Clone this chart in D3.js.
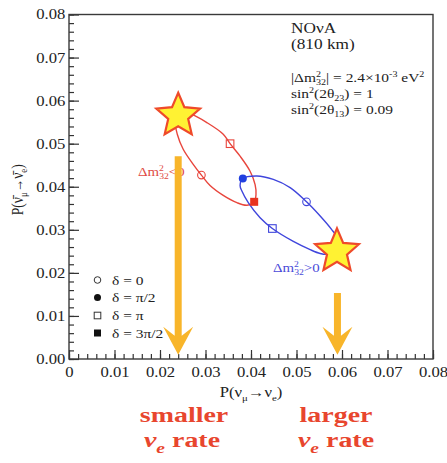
<!DOCTYPE html>
<html><head><meta charset="utf-8">
<script src="https://cdn.jsdelivr.net/npm/d3@7"></script>
<style>body{margin:0;background:#fff}svg{display:block}</style>
</head><body>
<svg id="c" width="447" height="463"></svg>
<script>
// ---------- data ----------
const tickValues = [0, 0.01, 0.02, 0.03, 0.04, 0.05, 0.06, 0.07, 0.08];
const xTickLabels = ["0", "0.01", "0.02", "0.03", "0.04", "0.05", "0.06", "0.07", "0.08"];
const yTickLabels = ["0.00", "0.01", "0.02", "0.03", "0.04", "0.05", "0.06", "0.07", "0.08"];

// curve outlines (x = P(nu_mu->nu_e), y = P(anti))
const invertedCurve = [
  [0.0234,0.0547],[0.0240,0.0563],[0.0255,0.0573],[0.0268,0.0569],[0.0303,0.0549],
  [0.0339,0.0522],[0.0354,0.0500],[0.0376,0.0471],[0.0398,0.0436],[0.0409,0.0405],
  [0.0411,0.0382],[0.0407,0.0365],[0.0391,0.0357],[0.0369,0.0363],[0.0339,0.0380],
  [0.0310,0.0403],[0.0291,0.0427],[0.0273,0.0452],[0.0251,0.0487],[0.0238,0.0522]
];
const normalCurve = [
  [0.0376,0.0403],[0.0382,0.0419],[0.0413,0.0425],[0.0449,0.0417],[0.0486,0.0398],
  [0.0522,0.0365],[0.0552,0.0332],[0.0577,0.0301],[0.0592,0.0278],[0.0594,0.0262],
  [0.0585,0.0248],[0.0568,0.0243],[0.0552,0.0245],[0.0530,0.0254],[0.0493,0.0273],
  [0.0447,0.0303],[0.0420,0.0328],[0.0394,0.0363],[0.0380,0.0390]
];
// delta markers: 0, pi/2, pi, 3pi/2
const deltaLabels = ["δ = 0", "δ = π/2", "δ = π", "δ = 3π/2"];
const invertedMarkersX = [0.0291, 0.0240, 0.0354, 0.0407];
const invertedMarkersY = [0.0427, 0.0563, 0.0500, 0.0365];
const normalMarkersX = [0.0522, 0.0382, 0.0447, 0.0588];
const normalMarkersY = [0.0365, 0.0419, 0.0303, 0.0249];
const starX = [0.0240, 0.0589];
const starY = [0.0565, 0.0250];
const arrowX = [0.0240, 0.0590];
const arrowTop = [0.0471, 0.01535];
const arrowTip = [0.0010, 0.0010];

// ---------- setup ----------
const SX = 1.19;
const serif = "'Liberation Serif','Times New Roman',serif";
const svg = d3.select("#c");
const x = d3.scaleLinear().domain([0, 0.08]).range([69, 433]);
const y = d3.scaleLinear().domain([0, 0.08]).range([359, 14.5]);

const RED = "#e8453c", BLUE = "#3f45dc";

// rich text helper
function rich(g, px, py, size, color, parts, opts = {}) {
  const sx = opts.sx || SX;
  const t = g.append("text")
    .attr("transform", `translate(${px},${py}) scale(${sx},1)${opts.rotate ? " rotate(-90)" : ""}`)
    .attr("font-family", serif).attr("font-size", size).attr("fill", color)
    .attr("text-anchor", opts.anchor || "start")
    .attr("font-weight", opts.bold ? "bold" : null);
  let cur = 0;
  parts.forEach(p => {
    const ts = t.append("tspan").text(p.t);
    const target = p.sup ? -0.38 * size : p.sub ? 0.26 * size : 0;
    if (target - cur !== 0) ts.attr("dy", target - cur);
    cur = target;
    if (p.sup || p.sub) ts.attr("font-size", size * (p.scale || 0.65));
    if (p.dx) ts.attr("dx", p.dx);
    if (p.italic) ts.attr("font-style", "italic");
  });
  return t;
}

// ---------- axes ----------
const minor = d3.range(0, 0.0801, 0.002);
const axG = svg.append("g");
axG.append("g").attr("transform", `translate(0,${y(0)})`)
  .call(d3.axisBottom(x).tickValues(minor).tickSizeInner(-5).tickSizeOuter(0).tickFormat(""));
axG.append("g").attr("transform", `translate(${x(0)},0)`)
  .call(d3.axisLeft(y).tickValues(minor).tickSizeInner(-5).tickSizeOuter(0).tickFormat(""));
axG.append("g").attr("class", "xmaj").attr("transform", `translate(0,${y(0)})`)
  .call(d3.axisBottom(x).tickValues(tickValues).tickSizeInner(-9).tickSizeOuter(0).tickPadding(8)
    .tickFormat((d, i) => xTickLabels[i]));
axG.append("g").attr("class", "ymaj").attr("transform", `translate(${x(0)},0)`)
  .call(d3.axisLeft(y).tickValues(tickValues).tickSizeInner(-10).tickSizeOuter(0).tickPadding(3)
    .tickFormat((d, i) => yTickLabels[i]));
axG.selectAll(".domain").remove();
axG.selectAll(".tick line").attr("stroke", "#333").attr("stroke-width", 1.2);
axG.selectAll(".tick text").attr("font-family", serif).attr("font-size", 14).attr("fill", "#222")
  .attr("transform", `scale(${SX},1)`);
svg.append("rect").attr("x", x(0)).attr("y", y(0.08)).attr("width", x(0.08) - x(0)).attr("height", y(0) - y(0.08))
  .attr("fill", "none").attr("stroke", "#3a3a3a").attr("stroke-width", 1.4);

// axis titles
rich(svg, (x(0) + x(0.08)) / 2, 397, 14, "#222", [
  {t: "P(ν"}, {t: "μ", sub: true}, {t: "→ν"}, {t: "e", sub: true}, {t: ")"}
], {anchor: "middle"});
rich(svg, 23, (y(0) + y(0.08)) / 2 + 3, 13.5, "#222", [
  {t: "P(ν\u0304"}, {t: "μ", sub: true}, {t: "→ν\u0304"}, {t: "e", sub: true}, {t: ")"}
], {anchor: "middle", rotate: true});

// ---------- curves ----------
const line = d3.line().x(d => x(d[0])).y(d => y(d[1])).curve(d3.curveCatmullRomClosed.alpha(0.5));
svg.append("path").attr("d", line(invertedCurve)).attr("fill", "none").attr("stroke", RED).attr("stroke-width", 1.4);
svg.append("path").attr("d", line(normalCurve)).attr("fill", "none").attr("stroke", BLUE).attr("stroke-width", 1.4);

// markers
function drawMarkers(xs, ys, color, fillColor) {
  const g = svg.append("g");
  xs.forEach((vx, i) => {
    const cx = x(vx), cy = y(ys[i]);
    if (i === 0) g.append("circle").attr("cx", cx).attr("cy", cy).attr("r", 3.8).attr("fill", "none").attr("stroke", color).attr("stroke-width", 1.1);
    if (i === 1) g.append("circle").attr("cx", cx).attr("cy", cy).attr("r", 4).attr("fill", fillColor);
    if (i === 2) g.append("rect").attr("x", cx - 3.8).attr("y", cy - 3.8).attr("width", 7.6).attr("height", 7.6).attr("fill", "none").attr("stroke", color).attr("stroke-width", 1.1);
    if (i === 3) g.append("rect").attr("x", cx - 4).attr("y", cy - 4).attr("width", 8).attr("height", 8).attr("fill", fillColor);
  });
}
drawMarkers(invertedMarkersX, invertedMarkersY, RED, "#e8331e");
drawMarkers(normalMarkersX, normalMarkersY, BLUE, "#2140e0");

// hierarchy labels
rich(svg, 138, 176, 12.5, "#e04a44", [
  {t: "Δm"}, {t: "2", sup: true}, {t: "32", sub: true, dx: -4}, {t: "<0"}
]);
rich(svg, 273, 272, 12.5, "#4a4ad8", [
  {t: "Δm"}, {t: "2", sup: true}, {t: "32", sub: true, dx: -4}, {t: ">0"}
]);

// legend
const legRows = [280, 297.5, 315.5, 333];
const lg = svg.append("g");
deltaLabels.forEach((lab, i) => {
  const cy = legRows[i], cx = 97.5;
  if (i === 0) lg.append("circle").attr("cx", cx).attr("cy", cy).attr("r", 3.3).attr("fill", "none").attr("stroke", "#333").attr("stroke-width", 1);
  if (i === 1) lg.append("circle").attr("cx", cx).attr("cy", cy).attr("r", 3.5).attr("fill", "#111");
  if (i === 2) lg.append("rect").attr("x", cx - 3.3).attr("y", cy - 3.3).attr("width", 6.6).attr("height", 6.6).attr("fill", "none").attr("stroke", "#333").attr("stroke-width", 1);
  if (i === 3) lg.append("rect").attr("x", cx - 3.5).attr("y", cy - 3.5).attr("width", 7).attr("height", 7).attr("fill", "#111");
  rich(lg, 112, cy + 4.5, 13, "#222", [{t: lab}]);
});

// info block
const ig = svg.append("g");
rich(ig, 291, 33, 14.5, "#222", [{t: "NOνA"}]);
rich(ig, 291, 49, 14.5, "#222", [{t: "(810 km)"}]);
rich(ig, 291, 82, 13, "#222", [
  {t: "|Δm"}, {t: "2", sup: true}, {t: "32", sub: true, dx: -4.2}, {t: "| = 2.4×10"}, {t: "-3", sup: true}, {t: " eV"}, {t: "2", sup: true}
]);
rich(ig, 291, 98, 13, "#222", [
  {t: "sin"}, {t: "2", sup: true}, {t: "(2θ"}, {t: "23", sub: true}, {t: ") = 1"}
]);
rich(ig, 291, 113.5, 13, "#222", [
  {t: "sin"}, {t: "2", sup: true}, {t: "(2θ"}, {t: "13", sub: true}, {t: ") = 0.09"}
]);

// ---------- stars ----------
function starPath(cx, cy, R, r) {
  const pts = [];
  for (let k = 0; k < 10; k++) {
    const a = -Math.PI / 2 + k * Math.PI / 5;
    const rad = k % 2 === 0 ? R : r;
    pts.push([cx + rad * Math.cos(a), cy + rad * Math.sin(a)]);
  }
  return d3.line()(pts) + "Z";
}
starX.forEach((sx, i) => {
  svg.append("path").attr("d", starPath(x(sx), y(starY[i]), 23, 10.5))
    .attr("fill", "#fff233").attr("stroke", "#ef4a2a").attr("stroke-width", 2.2).attr("stroke-linejoin", "miter");
});

// ---------- arrows ----------
arrowX.forEach((ax, i) => {
  const cx = x(ax), top = y(arrowTop[i]), tip = y(arrowTip[i]);
  const hw = 3.5, headW = 15, headTop = tip - 28, notch = headTop + 9;
  const pts = [[cx - hw, top], [cx - hw, notch], [cx - headW, headTop], [cx, tip], [cx + headW, headTop], [cx + hw, notch], [cx + hw, top]];
  svg.append("path").attr("d", d3.line()(pts) + "Z").attr("fill", "#f8b52a");
});

// ---------- bottom annotations ----------
const ANN = "#e8462e";
const annOpts = {anchor: "middle", bold: true, sx: 1.27};
rich(svg, 184, 422, 22, ANN, [{t: "smaller"}], annOpts);
rich(svg, 182, 447, 22, ANN, [{t: "ν", italic: true}, {t: "e", sub: true, italic: true, scale: 0.7}, {t: " rate"}], annOpts);
rich(svg, 336, 422, 22, ANN, [{t: "larger"}], annOpts);
rich(svg, 336, 447, 22, ANN, [{t: "ν", italic: true}, {t: "e", sub: true, italic: true, scale: 0.7}, {t: " rate"}], annOpts);
</script>
</body></html>
